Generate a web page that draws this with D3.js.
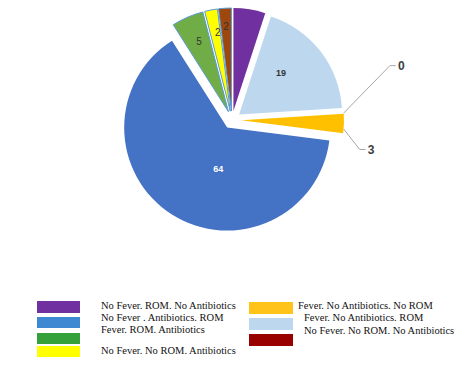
<!DOCTYPE html>
<html><head><meta charset="utf-8">
<script src="https://cdn.jsdelivr.net/npm/d3@7"></script>
<style>html,body{margin:0;padding:0;background:#fff;}svg{display:block;}</style>
</head><body>
<svg id="c" width="467" height="384"></svg>
<script>
// ---- data ----
const categories = ["No Fever. ROM. No Antibiotics", "Fever. No Antibiotics. ROM", "Other", "Fever. No Antibiotics. No ROM",
  "No Fever . Antibiotics. ROM", "Fever. ROM. Antibiotics", "No Fever. No ROM. Antibiotics", "No Fever. No ROM. No Antibiotics"];
const values = [5, 19, 0, 3, 64, 5, 2, 2];
const sliceColors = ["#7030A0", "#BDD7EE", "#A5A5A5", "#FFC000", "#4472C4", "#70AD47", "#FFFF00", "#9E480E"];
const legendLabels = ["No Fever. ROM. No Antibiotics", "No Fever . Antibiotics. ROM", "Fever. ROM. Antibiotics", "No Fever. No ROM. Antibiotics",
  "Fever. No Antibiotics. No ROM", "Fever. No Antibiotics. ROM", "No Fever. No ROM. No Antibiotics"];
const legendColors = ["#7030A0", "#3F88D2", "#36A03A", "#FFFF00", "#FFC31A", "#BDD7EE", "#990000"];

// ---- layout ----
const svg = d3.select("#c");
const cx = 232, cy = 120, R = 103, explode = 9;
const pie = d3.pie().sort(null).value(d => d.v);
const arcs = pie(values.map((v, i) => ({v, i})));
const arc = d3.arc().innerRadius(0).outerRadius(R);
const g = svg.append("g").attr("transform", `translate(${cx},${cy})`);
const mid = d => (d.startAngle + d.endAngle) / 2;
const off = (a, r) => [Math.sin(a) * r, -Math.cos(a) * r];

const outlined = [5, 6, 7];
g.selectAll("path.s").data(arcs).join("path").attr("class", "s")
  .attr("d", arc)
  .attr("transform", d => { const [x, y] = off(mid(d), explode); return `translate(${x},${y})`; })
  .attr("fill", d => sliceColors[d.data.i])
  .attr("stroke", d => outlined.includes(d.data.i) ? "#5B9BD5" : "none")
  .attr("stroke-width", 1);

// inside labels: [radius, angle shift (rad)]
const inside = {1: [59, -0.12], 4: [42, -0.35], 5: [76, 0.01], 6: [80, 0.03], 7: [85, 0]};
const labelStyle = {1: ["#333", 700, 9], 4: ["#fff", 700, 9], 5: ["#333", 400, 10], 6: ["#333", 400, 10], 7: ["#333", 400, 10]};
arcs.forEach(d => {
  const p = inside[d.data.i]; if (!p) return;
  const a = mid(d) + p[1];
  const [ex, ey] = off(mid(d), explode);
  const [x, y] = off(a, p[0]);
  const st = labelStyle[d.data.i];
  g.append("text").attr("x", ex + x).attr("y", ey + y).attr("dy", "0.35em")
    .attr("text-anchor", "middle").attr("font-family", "Liberation Sans, Arial, sans-serif")
    .attr("font-size", st[2]).attr("font-weight", st[1]).attr("fill", st[0]).text(d.data.v);
});

// outside labels with leader lines: [attach angle fraction, elbow angle(deg), elbow radius]
const outside = {2: [0.5, 71, 167], 3: [0.78, 103, 131]};
arcs.forEach(d => {
  const p = outside[d.data.i]; if (!p) return;
  const a = d.startAngle + (d.endAngle - d.startAngle) * p[0];
  const [ex, ey] = off(mid(d), explode);
  const [sx, sy] = off(a, R);
  const [bx, by] = off(p[1] * Math.PI / 180, p[2]);
  g.append("path").attr("d", `M${ex + sx},${ey + sy}L${bx},${by}L${bx + 6},${by}`)
    .attr("fill", "none").attr("stroke", "#A6A6A6").attr("stroke-width", 1);
  g.append("text").attr("x", bx + 8).attr("y", by).attr("dy", "0.35em")
    .attr("font-family", "Liberation Sans, Arial, sans-serif").attr("font-size", 12).attr("font-weight", 700)
    .attr("fill", "#404040").text(d.data.v);
});

// legend
const leg = [
  {box: [37, 301, 43, 12], tx: 101, ty: 308.5},
  {box: [37, 317, 43, 11], tx: 101, ty: 320.5},
  {box: [37, 333, 43, 11], tx: 101, ty: 332.5},
  {box: [37, 346, 43, 11], tx: 101, ty: 353.5},
  {box: [249, 302, 44, 12], tx: 298, ty: 308.5},
  {box: [249, 318, 44, 12], tx: 304, ty: 320.5},
  {box: [249, 334, 44, 12], tx: 304, ty: 333.5}
];
legendLabels.forEach((t, i) => {
  const L = leg[i];
  svg.append("rect").attr("x", L.box[0]).attr("y", L.box[1]).attr("width", L.box[2]).attr("height", L.box[3])
    .attr("fill", legendColors[i]);
  svg.append("text").attr("x", L.tx).attr("y", L.ty)
    .attr("font-family", "Liberation Serif, Times New Roman, serif").attr("font-size", 10.5)
    .attr("fill", "#111").text(t);
});
</script>
</body></html>
